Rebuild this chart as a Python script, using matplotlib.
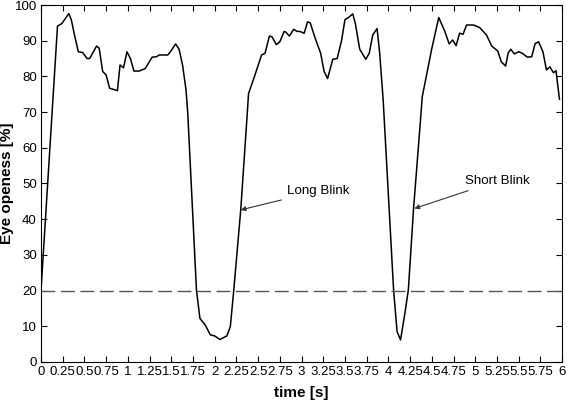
import numpy as np
import matplotlib
matplotlib.use('Agg')
import matplotlib.pyplot as plt

plt.rcParams['font.family'] = ['Liberation Sans', 'DejaVu Sans']

# eye openness trace
time_s = [0.0, 0.19, 0.24, 0.32, 0.35, 0.39, 0.43, 0.48, 0.53, 0.56, 0.64, 0.67,
          0.71, 0.75, 0.79, 0.83, 0.88, 0.91, 0.95, 0.99, 1.03, 1.07, 1.13, 1.20,
          1.28, 1.33, 1.36, 1.46, 1.49, 1.55, 1.59, 1.63, 1.67, 1.69, 1.79, 1.83,
          1.89, 1.95, 2.00, 2.06, 2.14, 2.18, 2.22, 2.30, 2.37, 2.39, 2.45, 2.54,
          2.58, 2.63, 2.66, 2.71, 2.75, 2.80, 2.82, 2.86, 2.91, 2.95, 2.98, 3.03,
          3.07, 3.10, 3.16, 3.22, 3.26, 3.30, 3.36, 3.41, 3.46, 3.50, 3.54, 3.59,
          3.62, 3.67, 3.74, 3.78, 3.82, 3.87, 3.90, 3.94, 4.06, 4.10, 4.14, 4.19,
          4.23, 4.29, 4.37, 4.39, 4.50, 4.58, 4.65, 4.70, 4.74, 4.78, 4.82, 4.86,
          4.90, 4.98, 5.05, 5.13, 5.19, 5.26, 5.30, 5.35, 5.38, 5.41, 5.45, 5.50,
          5.54, 5.60, 5.65, 5.69, 5.73, 5.78, 5.82, 5.86, 5.90, 5.93, 5.97]
openness = [20.0, 94.1, 94.8, 97.6, 95.8, 91.1, 86.9, 86.7, 85.0, 85.0, 88.5, 87.9,
            81.4, 80.4, 76.7, 76.4, 76.0, 83.2, 82.4, 86.9, 85.0, 81.5, 81.5, 82.2,
            85.4, 85.5, 86.0, 86.0, 86.9, 89.1, 87.6, 83.2, 76.2, 69.7, 20.2, 12.2,
            10.4, 7.6, 7.3, 6.3, 7.3, 9.9, 20.2, 42.6, 67.8, 75.2, 79.4, 86.0,
            86.5, 91.3, 91.1, 88.9, 89.7, 92.6, 92.4, 91.3, 93.2, 92.6, 92.6, 92.1,
            95.3, 95.0, 90.5, 86.5, 81.4, 79.4, 84.8, 85.0, 89.9, 95.9, 96.5, 97.5,
            94.8, 87.6, 84.8, 86.5, 91.6, 93.4, 86.5, 73.4, 20.2, 8.5, 6.2, 13.6,
            20.2, 43.0, 67.8, 74.3, 87.8, 96.5, 92.6, 89.1, 90.2, 88.6, 92.1, 91.8,
            94.4, 94.4, 93.7, 91.6, 88.5, 87.1, 84.1, 82.9, 86.6, 87.6, 86.3, 86.9,
            86.5, 85.4, 85.5, 89.2, 89.7, 86.9, 81.8, 82.7, 81.0, 81.6, 73.6]

threshold = 20
x_ticks = np.arange(0, 6.01, 0.25)
x_labels = ['%g' % t for t in x_ticks]

fig = plt.figure(figsize=(5.67, 4.01), dpi=100)
ax = fig.add_axes([0.0723, 0.0973, 0.919, 0.8902])

ax.plot(time_s, openness, color='black', linewidth=1.1)
ax.axhline(threshold, color='#555555', linewidth=1.0, dashes=(10, 4))

ax.annotate('Long Blink', xy=(2.30, 42.6), xytext=(2.83, 47.9),
            fontsize=9.6, va='center', ha='left',
            arrowprops=dict(arrowstyle='-|>', color='#333333', lw=0.8,
                            mutation_scale=7, shrinkA=2, shrinkB=0))
ax.annotate('Short Blink', xy=(4.30, 43.0), xytext=(4.88, 50.7),
            fontsize=9.6, va='center', ha='left',
            arrowprops=dict(arrowstyle='-|>', color='#333333', lw=0.8,
                            mutation_scale=7, shrinkA=2, shrinkB=0))

ax.set_xlim(0, 6)
ax.set_ylim(0, 100)
ax.set_xticks(x_ticks)
ax.set_xticklabels(x_labels)
ax.set_yticks(np.arange(0, 101, 10))
ax.tick_params(direction='in', top=True, right=True, length=4, width=0.8,
               labelsize=9.5, pad=3)
for s in ax.spines.values():
    s.set_linewidth(0.8)

ax.set_xlabel('time [s]', fontsize=11, fontweight='bold', labelpad=6)
ax.set_ylabel('Eye openess [%]', fontsize=11, fontweight='bold')
ax.yaxis.set_label_coords(-0.052, 0.5)

fig.savefig('out.png', dpi=100)
